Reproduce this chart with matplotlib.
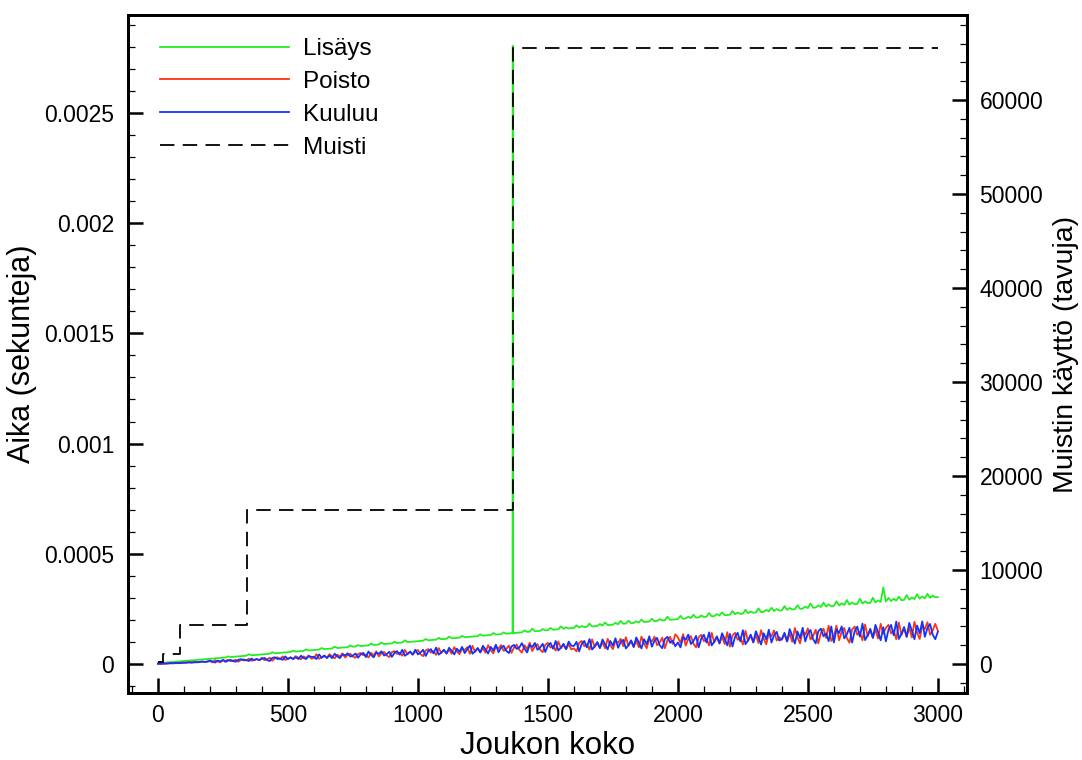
import numpy as np
import matplotlib
matplotlib.use("Agg")
import matplotlib.pyplot as plt
from matplotlib.ticker import MultipleLocator

plt.rcParams['font.family'] = ['Liberation Sans', 'DejaVu Sans']

# ---------------- data ----------------
# set sizes (x), sampled every 10 elements: 0, 10, ..., 3000
set_size = np.arange(0, 3001, 10)

# times in microseconds (converted to seconds when plotted)
insert_us = [3, 4, 5, 6, 7, 8, 9, 10, 11, 12, 13, 14, 15, 16, 17, 18, 19, 20, 21, 22,
             23, 24, 25, 26, 27, 28, 29, 34, 31, 32, 33, 34, 35, 36, 37, 44, 39, 40, 41, 42,
             43, 44, 45, 46, 53, 48, 49, 50, 51, 52, 53, 54, 60, 56, 57, 58, 59, 66, 61, 62,
             63, 64, 65, 72, 67, 68, 69, 70, 78, 72, 73, 74, 75, 76, 84, 78, 79, 85, 81, 82,
             83, 84, 92, 86, 87, 88, 97, 90, 91, 92, 93, 100, 95, 96, 97, 107, 99, 100, 101, 102,
             103, 104, 105, 113, 107, 108, 109, 110, 118, 112, 113, 114, 124, 116, 117, 118, 119, 127, 121, 122,
             123, 124, 125, 126, 134, 128, 129, 130, 131, 140, 133, 134, 135, 143, 137, 138, 139, 140, 141, 142,
             143, 152, 145, 146, 160, 148, 149, 150, 158, 152, 153, 163, 155, 156, 157, 170, 159, 166, 161, 162,
             163, 175, 165, 172, 167, 168, 183, 170, 171, 172, 181, 174, 188, 176, 177, 178, 186, 180, 195, 182,
             183, 196, 185, 186, 193, 188, 201, 190, 191, 192, 205, 194, 195, 203, 197, 198, 214, 200, 201, 202,
             203, 218, 205, 206, 214, 208, 223, 210, 211, 220, 213, 214, 231, 216, 217, 226, 219, 234, 221, 222,
             223, 240, 225, 233, 227, 228, 246, 230, 238, 232, 233, 252, 235, 236, 245, 238, 255, 240, 249, 242,
             243, 262, 245, 254, 247, 248, 266, 250, 251, 260, 253, 274, 255, 256, 265, 258, 278, 260, 270, 262,
             263, 284, 265, 275, 267, 290, 269, 279, 271, 272, 296, 274, 284, 276, 277, 300, 279, 288, 281, 347,
             283, 300, 285, 296, 287, 305, 289, 290, 312, 292, 301, 294, 316, 296, 306, 298, 318, 300, 310, 302,
             303]
# resize spike of the insert operation (table grows at 1365 elements)
insert_spike_n = [1364, 1365, 1366]
insert_spike_us = [140, 2805, 140]

remove_us = [0, 1, 0, 2, 3, 2, 4, 3, 5, 6, 4, 7, 6, 8, 6, 9, 8, 10, 8, 11,
             12, 7, 17, 11, 7, 16, 14, 19, 12, 15, 19, 10, 18, 21, 15, 24, 14, 17, 22, 17,
             28, 17, 21, 28, 14, 25, 30, 21, 34, 18, 23, 30, 22, 35, 28, 21, 34, 27, 38, 24,
             26, 44, 23, 29, 38, 27, 44, 35, 25, 42, 33, 48, 29, 40, 46, 33, 28, 45, 49, 39,
             42, 29, 50, 39, 57, 34, 48, 54, 38, 31, 53, 58, 45, 50, 37, 63, 44, 55, 42, 56,
             63, 44, 35, 61, 67, 51, 57, 41, 72, 50, 63, 47, 64, 46, 76, 56, 44, 70, 63, 76,
             46, 82, 55, 70, 52, 71, 51, 85, 62, 48, 78, 70, 85, 59, 68, 83, 50, 75, 87, 64,
             51, 85, 67, 96, 58, 80, 90, 64, 53, 87, 95, 74, 81, 60, 102, 71, 88, 67, 89, 66,
             70, 57, 95, 104, 80, 89, 65, 111, 77, 96, 72, 97, 71, 114, 85, 67, 105, 95, 114, 80,
             121, 82, 104, 77, 105, 75, 124, 91, 71, 113, 102, 123, 85, 97, 119, 71, 108, 123, 91, 134,
             121, 95, 135, 83, 113, 126, 91, 75, 121, 132, 103, 113, 84, 141, 98, 122, 93, 123, 90, 144,
             78, 129, 141, 109, 120, 88, 150, 104, 129, 97, 130, 95, 153, 114, 89, 140, 126, 152, 106, 121,
             109, 137, 102, 138, 100, 163, 120, 93, 149, 133, 161, 111, 127, 155, 93, 140, 160, 118, 173, 104,
             123, 174, 107, 145, 163, 117, 96, 156, 169, 132, 145, 107, 179, 125, 155, 118, 156, 115, 182, 137,
             163, 177, 138, 152, 112, 188, 131, 162, 123, 164, 120, 191, 143, 113, 175, 158, 189, 132, 151, 182,
             150]

contains_us = [1, 0, 2, 1, 2, 4, 2, 5, 3, 4, 6, 5, 8, 5, 9, 7, 8, 11, 9, 10,
               15, 11, 6, 15, 11, 18, 9, 15, 18, 12, 10, 19, 21, 16, 18, 13, 24, 17, 22, 17,
               23, 27, 17, 13, 27, 30, 22, 25, 18, 34, 22, 29, 22, 30, 22, 37, 27, 22, 35, 32,
               32, 22, 43, 28, 37, 27, 38, 26, 46, 34, 26, 43, 39, 48, 33, 38, 47, 28, 43, 50,
               31, 56, 40, 30, 51, 46, 57, 38, 44, 55, 32, 50, 58, 42, 64, 37, 45, 56, 42, 64,
               43, 51, 64, 36, 58, 67, 48, 74, 42, 51, 64, 47, 73, 59, 43, 69, 55, 77, 49, 66,
               83, 46, 57, 72, 52, 82, 66, 47, 77, 61, 87, 53, 73, 82, 59, 49, 79, 86, 68, 74,
               94, 69, 52, 86, 77, 95, 64, 74, 91, 54, 83, 95, 69, 104, 61, 73, 91, 67, 101, 83,
               81, 100, 57, 90, 104, 75, 113, 65, 79, 99, 72, 111, 89, 66, 104, 83, 116, 73, 98, 109,
               70, 85, 107, 77, 120, 96, 70, 112, 89, 125, 78, 105, 118, 85, 71, 113, 123, 96, 106, 80,
               97, 75, 122, 109, 133, 90, 104, 127, 75, 115, 132, 97, 143, 84, 101, 125, 93, 139, 113, 84,
               136, 79, 123, 141, 102, 153, 89, 107, 133, 98, 148, 120, 88, 139, 111, 155, 97, 130, 145, 106,
               113, 141, 102, 158, 127, 92, 147, 117, 164, 102, 138, 154, 112, 93, 148, 160, 125, 138, 103, 170,
               97, 157, 140, 170, 116, 134, 164, 97, 148, 169, 124, 183, 108, 129, 159, 118, 177, 144, 107, 166,
               102, 155, 177, 130, 192, 113, 136, 167, 123, 186, 151, 112, 174, 139, 193, 123, 163, 181, 133, 112,
               146]

# memory usage (bytes) as a step function
memory_n = [1, 21, 85, 341, 1365, 3000]
memory_bytes = [256, 1024, 4096, 16384, 65536, 65536]

# ---------------- figure ----------------
fig = plt.figure(figsize=(10.82, 7.60), dpi=100)
ax = fig.add_axes([0.1183, 0.0882, 0.7754, 0.8921])
ax2 = ax.twinx()

# merge insert spike points into the insert series
ins_n = np.concatenate([set_size, insert_spike_n])
ins_v = np.concatenate([np.array(insert_us, float), insert_spike_us])
order = np.argsort(ins_n, kind="stable")
ins_n, ins_v = ins_n[order], ins_v[order]

lw = 1.3
l1, = ax.plot(ins_n, ins_v * 1e-6, color='#22ee22', lw=lw, label='Lisäys')
l2, = ax.plot(set_size, np.array(remove_us) * 1e-6, color='#ff3311', lw=lw, label='Poisto')
l3, = ax.plot(set_size, np.array(contains_us) * 1e-6, color='#1133ff', lw=lw, label='Kuuluu')
l4, = ax2.plot(memory_n, memory_bytes, color='black', lw=1.3, drawstyle='steps-post',
               linestyle=(0, (8.0, 4.6)), label='Muisti')

ax.set_xlim(-115, 3112)
ax.set_ylim(-0.000132, 0.002945)
ax2.set_ylim(-3085, 69040)

ax.xaxis.set_major_locator(MultipleLocator(500))
ax.xaxis.set_minor_locator(MultipleLocator(100))
ax.yaxis.set_minor_locator(MultipleLocator(0.0001))
ax2.yaxis.set_major_locator(MultipleLocator(10000))
ax2.yaxis.set_minor_locator(MultipleLocator(2000))

ax.set_yticks([0, 0.0005, 0.001, 0.0015, 0.002, 0.0025])
ax.set_yticklabels(['0', '0.0005', '0.001', '0.0015', '0.002', '0.0025'])

for a in (ax, ax2):
    for s in a.spines.values():
        s.set_linewidth(2.0)

tick_fs = 16.5
ax.tick_params(axis='both', which='major', direction='in', length=11, width=1.8, labelsize=tick_fs)
ax.tick_params(axis='both', which='minor', direction='in', length=5, width=0.9)
ax.tick_params(axis='x', which='both', top=False, pad=8)
ax.tick_params(axis='y', which='both', right=False, pad=10)
ax2.tick_params(axis='y', which='major', direction='in', length=11, width=1.8, labelsize=tick_fs, pad=9)
ax2.tick_params(axis='y', which='minor', direction='in', length=5, width=0.9)

ax.set_xlabel('Joukon koko', fontsize=22.5, labelpad=3)
ax.set_ylabel('Aika (sekunteja)', fontsize=22, labelpad=5)
ax2.set_ylabel('Muistin käyttö (tavuja)', fontsize=20.5, labelpad=7)

leg = ax2.legend([l1, l2, l3, l4], ['Lisäys', 'Poisto', 'Kuuluu', 'Muisti'],
                 loc='upper left', bbox_to_anchor=(0.038, 0.966), frameon=False,
                 fontsize=17.5, handlelength=5.3, handletextpad=0.6,
                 labelspacing=0.45, borderaxespad=0.0, borderpad=0.0)

fig.savefig('out.png', dpi=100)
